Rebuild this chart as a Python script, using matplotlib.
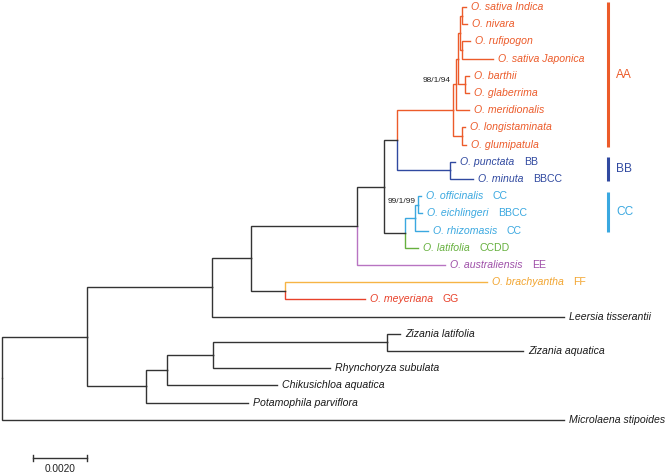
import matplotlib.pyplot as plt

plt.rcParams['font.family'] = ['Liberation Sans', 'DejaVu Sans']

# tips, top to bottom
leaves = ['O. sativa Indica', 'O. nivara', 'O. rufipogon', 'O. sativa Japonica',
          'O. barthii', 'O. glaberrima', 'O. meridionalis', 'O. longistaminata',
          'O. glumipatula', 'O. punctata', 'O. minuta', 'O. officinalis',
          'O. eichlingeri', 'O. rhizomasis', 'O. latifolia', 'O. australiensis',
          'O. brachyantha', 'O. meyeriana', 'Leersia tisserantii', 'Zizania latifolia',
          'Zizania aquatica', 'Rhynchoryza subulata', 'Chikusichloa aquatica',
          'Potamophila parviflora', 'Microlaena stipoides']
genomes = ['', '', '', '', '', '', '', '', '',
           'BB', 'BBCC', 'CC', 'BBCC', 'CC', 'CCDD', 'EE', 'FF', 'GG',
           '', '', '', '', '', '', '']
leaf_group = ['AA'] * 9 + ['BB'] * 2 + ['CC'] * 3 + ['CCDD', 'EE', 'FF', 'GG'] + ['out'] * 7
# distance from root (substitutions / site)
leaf_depth = [0.01719, 0.01722, 0.01733, 0.01819, 0.01730, 0.01730, 0.01730, 0.01715,
              0.01719, 0.01678, 0.01744, 0.01552, 0.01556, 0.01578, 0.01541, 0.01641,
              0.01796, 0.01344, 0.02081, 0.01474, 0.01930, 0.01215, 0.01019, 0.00911,
              0.02081]

# internal nodes: name, depth, children, group
nodes = [
    ('root', 0.0, ['A', 'Microlaena stipoides'], 'out'),
    ('A', 0.00315, ['B', 'Z1'], 'out'),
    ('B', 0.00778, ['C', 'Leersia tisserantii'], 'out'),
    ('C', 0.00922, ['E', 'D'], 'out'),
    ('D', 0.01048, ['O. brachyantha', 'O. meyeriana'], 'out'),
    ('E', 0.01315, ['F', 'O. australiensis'], 'out'),
    ('F', 0.01415, ['G', 'H'], 'out'),
    ('G', 0.01463, ['L', 'K'], 'out'),
    ('L', 0.01670, ['M', 'LG'], 'AA'),
    ('M', 0.01681, ['P', 'O. meridionalis'], 'AA'),
    ('P', 0.01689, ['N', 'BG'], 'AA'),
    ('N', 0.01696, ['IN', 'RJ'], 'AA'),
    ('IN', 0.01704, ['O. sativa Indica', 'O. nivara'], 'AA'),
    ('RJ', 0.01704, ['O. rufipogon', 'O. sativa Japonica'], 'AA'),
    ('BG', 0.01715, ['O. barthii', 'O. glaberrima'], 'AA'),
    ('LG', 0.01704, ['O. longistaminata', 'O. glumipatula'], 'AA'),
    ('K', 0.01659, ['O. punctata', 'O. minuta'], 'BB'),
    ('H', 0.01493, ['I', 'O. latifolia'], 'out'),
    ('I', 0.01530, ['J', 'O. rhizomasis'], 'CC'),
    ('J', 0.01541, ['O. officinalis', 'O. eichlingeri'], 'CC'),
    ('Z1', 0.00533, ['Z2', 'Potamophila parviflora'], 'out'),
    ('Z2', 0.00611, ['Z3', 'Chikusichloa aquatica'], 'out'),
    ('Z3', 0.00781, ['Z4', 'Rhynchoryza subulata'], 'out'),
    ('Z4', 0.01426, ['Zizania latifolia', 'Zizania aquatica'], 'out'),
]

supports = {'L': '98/1/94', 'J': '99/1/99'}
clades = ['AA', 'BB', 'CC']
clade_span = [(-0.3, 8.15), (8.72, 10.12), (10.76, 13.08)]

line_col = {'AA': '#ec5b2a', 'BB': '#3049a0', 'CC': '#3aa8e0', 'CCDD': '#66b03e',
            'EE': '#b874c2', 'FF': '#f6b445', 'GG': '#e8412a', 'out': '#333333'}
text_col = dict(line_col, EE='#9e4fa8', FF='#f2a530', out='#1a1a1a')

# tree layout
depth = dict(zip(leaves, leaf_depth))
group = dict(zip(leaves, leaf_group))
children = {}
for name, d, kids, g in nodes:
    depth[name] = d
    group[name] = g
    children[name] = kids
ypos = {name: i for i, name in enumerate(leaves)}
parent = {}


def place(n):
    if n in ypos:
        return ypos[n]
    ys = [place(c) for c in children[n]]
    for c in children[n]:
        parent[c] = n
    ypos[n] = (ys[0] + ys[-1]) / 2
    return ypos[n]


place('root')

fig = plt.figure(figsize=(6.66, 4.74), dpi=100)
ax = fig.add_axes([0, 0, 1, 1])
px = 0.002 / 54  # data units per pixel
ax.set_xlim(-2 * px, 664 * px)
ax.set_ylim((474 - 7) / 17.2, -7 / 17.2)
ax.axis('off')

for n, p in parent.items():
    ax.plot([depth[p], depth[p], depth[n]], [ypos[p], ypos[n], ypos[n]],
            color=line_col[group[n]], lw=1.0, solid_joinstyle='miter')

for name, code, g in zip(leaves, genomes, leaf_group):
    t = ax.annotate(name, (depth[name], ypos[name]), xytext=(3.5, 0),
                    textcoords='offset points', va='center', ha='left',
                    fontsize=7.6, style='italic', color=text_col[g])
    if code:
        ax.annotate(code, xy=(1, 0.5), xycoords=t, xytext=(7, 0),
                    textcoords='offset points', va='center', ha='left',
                    fontsize=7.6, color=text_col[g])

for n, s in supports.items():
    ax.text(depth[n] - 2 * px, ypos[n] - (1.7 if n == 'L' else 0.2), s,
            ha='right', va='center', fontsize=6, color='#222222')

for c, (y0, y1) in zip(clades, clade_span):
    ax.plot([606 * px, 606 * px], [y0, y1], color=line_col[c], lw=2.2,
            solid_capstyle='butt')
    ax.text(614 * px, (y0 + y1) / 2, c, ha='left', va='center',
            fontsize=8.6, color=line_col[c])

# scale bar
sb_y = (458 - 7) / 17.2
ax.plot([31 * px, 31 * px + 0.002], [sb_y, sb_y], color='#333333', lw=1.0)
for xe in (31 * px, 31 * px + 0.002):
    ax.plot([xe, xe], [sb_y - 0.2, sb_y + 0.2], color='#333333', lw=1.0)
ax.text(31 * px + 0.001, sb_y + 0.35, '0.0020', ha='center', va='top',
        fontsize=7.3, color='#222222')

fig.savefig('out.png', dpi=100)
